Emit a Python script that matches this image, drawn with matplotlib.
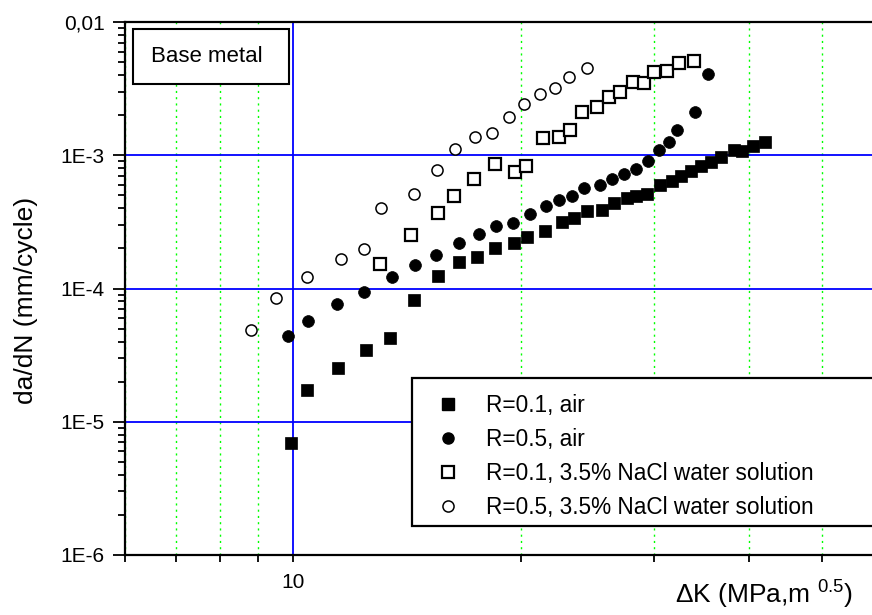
import matplotlib
matplotlib.use("Agg")
import matplotlib.pyplot as plt
from matplotlib.lines import Line2D
from matplotlib.patches import Rectangle
from matplotlib.ticker import FixedLocator, FixedFormatter, NullFormatter

plt.rcParams['font.family'] = ['Liberation Sans', 'DejaVu Sans']
plt.rcParams['mathtext.default'] = 'regular'

# R=0.1, air
dk_r01_air = [9.94, 10.43, 11.47, 12.49, 13.43, 14.45, 15.54, 16.57, 17.50, 18.49, 19.58,
              20.38, 21.52, 22.66, 23.51, 24.46, 25.60, 26.55, 27.62, 28.39, 29.35, 30.53,
              31.67, 32.55, 33.56, 34.59, 35.66, 36.76, 38.25, 39.19, 40.53, 42.03]
dadn_r01_air = [6.95e-6, 1.74e-5, 2.55e-5, 3.48e-5, 4.28e-5, 8.26e-5, 1.25e-4, 1.57e-4, 1.71e-4,
                2.00e-4, 2.18e-4, 2.42e-4, 2.68e-4, 3.13e-4, 3.36e-4, 3.79e-4, 3.86e-4, 4.36e-4,
                4.75e-4, 4.92e-4, 5.09e-4, 5.95e-4, 6.37e-4, 6.95e-4, 7.58e-4, 8.26e-4, 8.86e-4,
                9.66e-4, 1.09e-3, 1.07e-3, 1.17e-3, 1.26e-3]

# R=0.5, air
dk_r05_air = [9.85, 10.47, 11.43, 12.41, 13.51, 14.49, 15.45, 16.57, 17.61, 18.54, 19.52,
              20.57, 21.59, 22.46, 23.36, 24.23, 25.44, 26.39, 27.37, 28.39, 29.49, 30.44,
              31.39, 32.16, 33.96, 35.33]
dadn_r05_air = [4.43e-5, 5.74e-5, 7.71e-5, 9.49e-5, 1.23e-4, 1.49e-4, 1.77e-4, 2.18e-4, 2.55e-4,
                2.92e-4, 3.08e-4, 3.63e-4, 4.14e-4, 4.59e-4, 4.92e-4, 5.65e-4, 5.95e-4, 6.60e-4,
                7.19e-4, 7.91e-4, 9.06e-4, 1.10e-3, 1.26e-3, 1.56e-3, 2.12e-3, 4.08e-3]

# R=0.1, 3.5% NaCl
dk_r01_nacl = [13.02, 14.32, 15.54, 16.32, 17.32, 18.49, 19.66, 20.32, 21.39, 22.48, 23.24,
               24.09, 25.21, 26.12, 27.06, 28.10, 29.06, 30.01, 31.17, 32.38, 33.89]
dadn_r01_nacl = [1.52e-4, 2.50e-4, 3.66e-4, 4.92e-4, 6.68e-4, 8.53e-4, 7.45e-4, 8.31e-4, 1.34e-3,
                 1.37e-3, 1.54e-3, 2.12e-3, 2.31e-3, 2.72e-3, 2.96e-3, 3.52e-3, 3.46e-3, 4.19e-3,
                 4.31e-3, 4.89e-3, 5.06e-3]

# R=0.5, 3.5% NaCl
dk_r05_nacl = [8.80, 9.49, 10.43, 11.57, 12.42, 13.07, 14.45, 15.48, 16.37, 17.42, 18.30,
               19.31, 20.18, 21.21, 22.21, 23.17, 24.43]
dadn_r05_nacl = [4.92e-5, 8.55e-5, 1.23e-4, 1.67e-4, 1.99e-4, 3.99e-4, 5.09e-4, 7.75e-4, 1.11e-3,
                 1.37e-3, 1.48e-3, 1.95e-3, 2.43e-3, 2.88e-3, 3.17e-3, 3.84e-3, 4.49e-3]

labels = ['R=0.1, air', 'R=0.5, air', 'R=0.1, 3.5% NaCl water solution',
          'R=0.5, 3.5% NaCl water solution']
y_ticks = [1e-6, 1e-5, 1e-4, 1e-3, 1e-2]
y_ticklabels = ['1E-6', '1E-5', '1E-4', '1E-3', '0,01']
x_major = [10]
x_minor = [6, 7, 8, 9, 20, 30, 40, 50]

W, H = 872, 615
fig = plt.figure(figsize=(W / 100, H / 100), dpi=100)
# axes run a bit past the right edge (picture is cropped there)
ax = fig.add_axes([125 / W, 1 - 555 / H, 757 / W, 533 / H])
ax.set_xscale('log')
ax.set_yscale('log')
ax.set_xlim(6, 60)
ax.set_ylim(1e-6, 1e-2)

ax.xaxis.set_major_locator(FixedLocator(x_major))
ax.xaxis.set_major_formatter(FixedFormatter(['10']))
ax.xaxis.set_minor_locator(FixedLocator(x_minor))
ax.xaxis.set_minor_formatter(NullFormatter())
ax.yaxis.set_major_locator(FixedLocator(y_ticks))
ax.yaxis.set_major_formatter(FixedFormatter(y_ticklabels))
ax.yaxis.set_minor_locator(FixedLocator([m * 10.0 ** e for e in range(-6, -2) for m in range(2, 10)]))
ax.yaxis.set_minor_formatter(NullFormatter())

ax.grid(True, which='major', color='#0000ff', linewidth=1.3)
ax.grid(True, which='minor', axis='x', color='#00ff00', linestyle=(0, (1.5, 3)), linewidth=1.0)
ax.set_axisbelow(True)

for s in ax.spines.values():
    s.set_linewidth(1.6)
ax.tick_params(axis='y', which='major', direction='out', length=8.5, width=1.3, labelsize=15, pad=6)
ax.tick_params(axis='y', which='minor', direction='out', length=5, width=1.3)
ax.tick_params(axis='x', which='both', direction='out', length=5, width=1.3, labelsize=15, pad=8)

ax.plot(dk_r01_air, dadn_r01_air, 's', color='black', ms=8.5, mew=0.5, ls='none', zorder=3)
ax.plot(dk_r05_air, dadn_r05_air, 'o', color='black', ms=8.5, mew=0.5, ls='none', zorder=3)
ax.plot(dk_r01_nacl, dadn_r01_nacl, 's', mfc='white', mec='black', ms=8, mew=1.6, ls='none', zorder=3)
ax.plot(dk_r05_nacl, dadn_r05_nacl, 'o', mfc='white', mec='black', ms=8, mew=1.1, ls='none', zorder=3)

# Base metal box
fig.patches.append(Rectangle((133 / W, 1 - 84 / H), 156 / W, 55 / H, transform=fig.transFigure,
                             facecolor='white', edgecolor='black', linewidth=1.5, zorder=5))
fig.text(207 / W, 1 - 57 / H, 'Base metal', fontsize=16, ha='center', va='center', zorder=6)

# legend box (runs off the right side)
fig.patches.append(Rectangle((412 / W, 1 - 526 / H), 500 / W, 148 / H, transform=fig.transFigure,
                             facecolor='white', edgecolor='black', linewidth=1.6, zorder=5))
handles = [
    Line2D([], [], marker='s', color='black', ms=8, ls='none'),
    Line2D([], [], marker='o', color='black', ms=8, ls='none'),
    Line2D([], [], marker='s', mfc='white', mec='black', ms=8, mew=1.6, ls='none'),
    Line2D([], [], marker='o', mfc='white', mec='black', ms=8, mew=1.1, ls='none'),
]
leg = fig.legend(handles, labels, loc='upper left', bbox_to_anchor=(434.5 / W, 1 - 394 / H),
                 frameon=False, fontsize=16.3, labelspacing=0.49, handlelength=1.2,
                 handletextpad=1.08, borderpad=0, borderaxespad=0)
leg.set_zorder(6)

fig.text(26 / W, 1 - 300 / H, 'da/dN (mm/cycle)', rotation=90, fontsize=19, ha='center', va='center')
fig.text(853 / W, 1 - 604 / H, '\u0394K (MPa,m $^{0.5}$)', fontsize=19, ha='right', va='baseline')

fig.savefig('out.png', dpi=100)
